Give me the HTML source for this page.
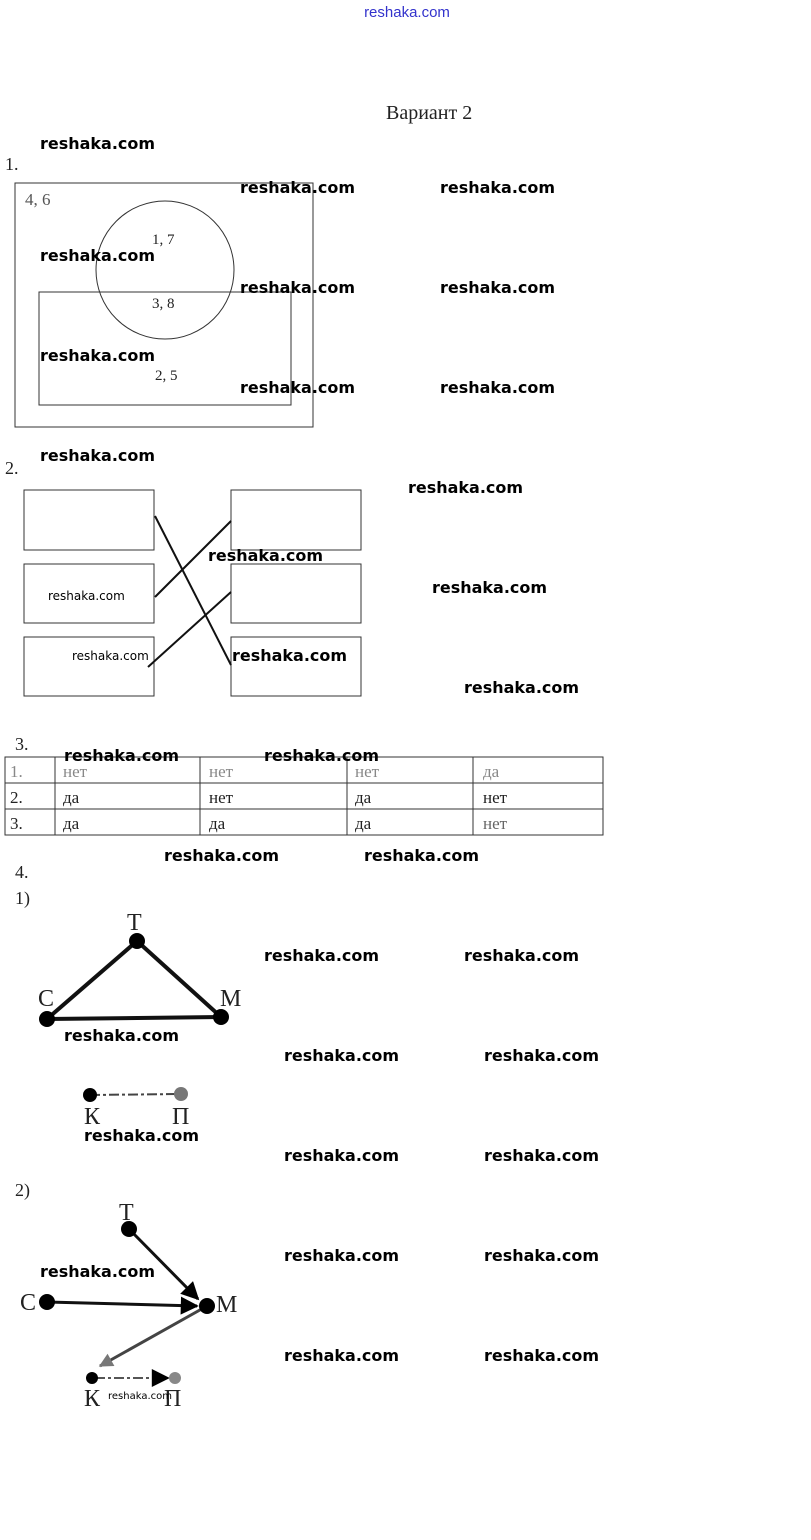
<!DOCTYPE html>
<html><head><meta charset="utf-8"><style>
html,body{margin:0;padding:0;background:#fff;}
svg{display:block;}
.s{font-family:"Liberation Serif",serif;fill:#222;}
.w{font-family:"DejaVu Sans","Liberation Sans",sans-serif;font-size:16px;font-weight:bold;fill:#000;}
.g{font-family:"Liberation Serif",serif;fill:#555;font-size:17px;}
</style></head><body>
<svg width="811" height="1540" viewBox="0 0 811 1540" xmlns="http://www.w3.org/2000/svg">
<defs>
<marker id="ab" viewBox="0 0 10 10" markerWidth="20" markerHeight="18" refX="9" refY="5" orient="auto" markerUnits="userSpaceOnUse"><path d="M0,0 L10,5 L0,10z" fill="#000"/></marker>
<marker id="ag" viewBox="0 0 10 10" markerWidth="16" markerHeight="14" refX="9" refY="5" orient="auto" markerUnits="userSpaceOnUse"><path d="M0,0 L10,5 L0,10z" fill="#777"/></marker>
</defs>
<text x="407" y="17" text-anchor="middle" font-family="Liberation Sans,sans-serif" font-size="15" fill="#3333cc">reshaka.com</text>
<text x="386" y="119" class="s" font-size="20">Вариант 2</text>

<text x="5" y="170" class="s" font-size="18">1.</text>
<rect x="15" y="183" width="298" height="244" fill="none" stroke="#333" stroke-width="1"/>
<circle cx="165" cy="270" r="69" fill="none" stroke="#333" stroke-width="1"/>
<rect x="39" y="292" width="252" height="113" fill="none" stroke="#333" stroke-width="1"/>
<text x="25" y="205" class="g" font-size="15">4, 6</text>
<text x="152" y="244" class="s" font-size="15">1, 7</text>
<text x="152" y="308" class="s" font-size="15">3, 8</text>
<text x="155" y="380" class="s" font-size="15">2, 5</text>

<text x="5" y="474" class="s" font-size="18">2.</text>
<g fill="none" stroke="#333" stroke-width="1">
<rect x="24" y="490" width="130" height="60"/><rect x="24" y="564" width="130" height="59"/><rect x="24" y="637" width="130" height="59"/>
<rect x="231" y="490" width="130" height="60"/><rect x="231" y="564" width="130" height="59"/><rect x="231" y="637" width="130" height="59"/>
</g>
<g stroke="#111" stroke-width="2">
<line x1="155" y1="516" x2="231" y2="665"/><line x1="155" y1="597" x2="231" y2="521"/><line x1="148" y1="667" x2="231" y2="592"/>
</g>
<text x="48" y="600" font-family="DejaVu Sans,sans-serif" font-size="12">reshaka.com</text>
<text x="72" y="660" font-family="DejaVu Sans,sans-serif" font-size="12">reshaka.com</text>

<text x="15" y="750" class="s" font-size="18">3.</text>
<g fill="none" stroke="#333" stroke-width="1">
<rect x="5" y="757" width="598" height="78"/>
<line x1="5" y1="783" x2="603" y2="783"/><line x1="5" y1="809" x2="603" y2="809"/>
<line x1="55" y1="757" x2="55" y2="835"/><line x1="200" y1="757" x2="200" y2="835"/><line x1="347" y1="757" x2="347" y2="835"/><line x1="473" y1="757" x2="473" y2="835"/>
</g>
<g class="s" font-size="17">
<text x="10" y="777" fill="#888">1.</text><text x="63" y="777" fill="#888">нет</text><text x="209" y="777" fill="#888">нет</text><text x="355" y="777" fill="#888">нет</text><text x="483" y="777" fill="#888">да</text>
<text x="10" y="803">2.</text><text x="63" y="803">да</text><text x="209" y="803">нет</text><text x="355" y="803">да</text><text x="483" y="803">нет</text>
<text x="10" y="829">3.</text><text x="63" y="829">да</text><text x="209" y="829">да</text><text x="355" y="829">да</text><text x="483" y="829" fill="#666">нет</text>
</g>

<text x="15" y="878" class="s" font-size="18">4.</text>
<text x="15" y="904" class="s" font-size="18">1)</text>
<g stroke="#111" stroke-width="4">
<line x1="137" y1="941" x2="47" y2="1019"/><line x1="137" y1="941" x2="221" y2="1017"/><line x1="47" y1="1019" x2="221" y2="1017"/>
</g>
<line x1="90" y1="1095" x2="181" y2="1094" stroke="#444" stroke-width="2" stroke-dasharray="10,3,3,3"/>
<circle cx="137" cy="941" r="8"/><circle cx="47" cy="1019" r="8"/><circle cx="221" cy="1017" r="8"/><circle cx="90" cy="1095" r="7"/><circle cx="181" cy="1094" r="7" fill="#777"/>
<text x="127" y="930" class="s" font-size="24">Т</text>
<text x="38" y="1006" class="s" font-size="24">С</text>
<text x="220" y="1006" class="s" font-size="24">М</text>
<text x="84" y="1124" class="s" font-size="24" fill="#555">К</text>
<text x="172" y="1124" class="s" font-size="24" fill="#777">П</text>

<text x="15" y="1196" class="s" font-size="18">2)</text>
<g stroke="#111" stroke-width="3">
<line x1="129" y1="1229" x2="198" y2="1299" marker-end="url(#ab)"/>
<line x1="47" y1="1302" x2="197" y2="1306" marker-end="url(#ab)"/>
<line x1="207" y1="1306" x2="100" y2="1366" stroke="#444" marker-end="url(#ag)"/>
</g>
<line x1="95" y1="1378" x2="168" y2="1378" stroke="#555" stroke-width="2" stroke-dasharray="10,3,3,3" marker-end="url(#ab)"/>
<circle cx="129" cy="1229" r="8"/><circle cx="47" cy="1302" r="8"/><circle cx="207" cy="1306" r="8"/><circle cx="92" cy="1378" r="6"/><circle cx="175" cy="1378" r="6" fill="#888"/>
<text x="119" y="1220" class="s" font-size="24">Т</text>
<text x="20" y="1310" class="s" font-size="24">С</text>
<text x="216" y="1312" class="s" font-size="24">М</text>
<text x="84" y="1406" class="s" font-size="24" fill="#555">К</text>
<text x="164" y="1406" class="s" font-size="24" fill="#777">П</text>
<text x="108" y="1399" font-family="DejaVu Sans,sans-serif" font-size="10">reshaka.com</text>

<g class="w">
<text x="40" y="149" textLength="115" lengthAdjust="spacingAndGlyphs">reshaka.com</text>
<text x="240" y="193" textLength="115" lengthAdjust="spacingAndGlyphs">reshaka.com</text><text x="440" y="193" textLength="115" lengthAdjust="spacingAndGlyphs">reshaka.com</text>
<text x="40" y="261" textLength="115" lengthAdjust="spacingAndGlyphs">reshaka.com</text>
<text x="240" y="293" textLength="115" lengthAdjust="spacingAndGlyphs">reshaka.com</text><text x="440" y="293" textLength="115" lengthAdjust="spacingAndGlyphs">reshaka.com</text>
<text x="40" y="361" textLength="115" lengthAdjust="spacingAndGlyphs">reshaka.com</text>
<text x="240" y="393" textLength="115" lengthAdjust="spacingAndGlyphs">reshaka.com</text><text x="440" y="393" textLength="115" lengthAdjust="spacingAndGlyphs">reshaka.com</text>
<text x="40" y="461" textLength="115" lengthAdjust="spacingAndGlyphs">reshaka.com</text>
<text x="408" y="493" textLength="115" lengthAdjust="spacingAndGlyphs">reshaka.com</text>
<text x="208" y="561" textLength="115" lengthAdjust="spacingAndGlyphs">reshaka.com</text>
<text x="432" y="593" textLength="115" lengthAdjust="spacingAndGlyphs">reshaka.com</text>
<text x="232" y="661" textLength="115" lengthAdjust="spacingAndGlyphs">reshaka.com</text>
<text x="464" y="693" textLength="115" lengthAdjust="spacingAndGlyphs">reshaka.com</text>
<text x="64" y="761" textLength="115" lengthAdjust="spacingAndGlyphs">reshaka.com</text><text x="264" y="761" textLength="115" lengthAdjust="spacingAndGlyphs">reshaka.com</text>
<text x="164" y="861" textLength="115" lengthAdjust="spacingAndGlyphs">reshaka.com</text><text x="364" y="861" textLength="115" lengthAdjust="spacingAndGlyphs">reshaka.com</text>
<text x="264" y="961" textLength="115" lengthAdjust="spacingAndGlyphs">reshaka.com</text><text x="464" y="961" textLength="115" lengthAdjust="spacingAndGlyphs">reshaka.com</text>
<text x="64" y="1041" textLength="115" lengthAdjust="spacingAndGlyphs">reshaka.com</text>
<text x="284" y="1061" textLength="115" lengthAdjust="spacingAndGlyphs">reshaka.com</text><text x="484" y="1061" textLength="115" lengthAdjust="spacingAndGlyphs">reshaka.com</text>
<text x="84" y="1141" textLength="115" lengthAdjust="spacingAndGlyphs">reshaka.com</text>
<text x="284" y="1161" textLength="115" lengthAdjust="spacingAndGlyphs">reshaka.com</text><text x="484" y="1161" textLength="115" lengthAdjust="spacingAndGlyphs">reshaka.com</text>
<text x="284" y="1261" textLength="115" lengthAdjust="spacingAndGlyphs">reshaka.com</text><text x="484" y="1261" textLength="115" lengthAdjust="spacingAndGlyphs">reshaka.com</text>
<text x="40" y="1277" textLength="115" lengthAdjust="spacingAndGlyphs">reshaka.com</text>
<text x="284" y="1361" textLength="115" lengthAdjust="spacingAndGlyphs">reshaka.com</text><text x="484" y="1361" textLength="115" lengthAdjust="spacingAndGlyphs">reshaka.com</text>
</g>
</svg>
</body></html>
